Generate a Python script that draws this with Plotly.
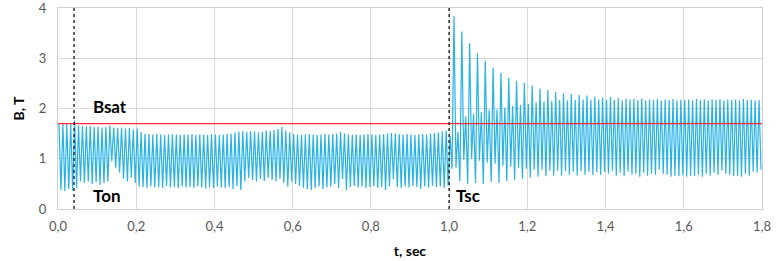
import plotly.graph_objects as go

# ---- data ----
B_SAT = 1.7
T_ON = 0.041
T_SC = 1.0
STEP = 0.01  # one peak and one trough per 0.01 s

# peak values, one per 0.01 s interval (t = 0.0025 + 0.01*i)
peak_values = [
    1.70, 1.70, 1.69, 1.70, 1.76, 1.66, 1.65, 1.64, 1.65, 1.63,
    1.64, 1.62, 1.63, 1.66, 1.62, 1.61, 1.62, 1.60, 1.61, 1.58,
    1.60, 1.53, 1.50, 1.49, 1.48, 1.49, 1.48, 1.47, 1.48, 1.49,
    1.48, 1.47, 1.48, 1.48, 1.49, 1.47, 1.48, 1.48, 1.47, 1.49,
    1.48, 1.47, 1.48, 1.49, 1.50, 1.52, 1.54, 1.55, 1.53, 1.55,
    1.54, 1.52, 1.53, 1.56, 1.55, 1.57, 1.59, 1.63, 1.56, 1.52,
    1.49, 1.48, 1.47, 1.48, 1.49, 1.48, 1.47, 1.48, 1.49, 1.48,
    1.49, 1.50, 1.53, 1.50, 1.48, 1.47, 1.48, 1.47, 1.48, 1.49,
    1.48, 1.47, 1.48, 1.49, 1.50, 1.51, 1.50, 1.49, 1.48, 1.49,
    1.48, 1.47, 1.48, 1.49, 1.48, 1.50, 1.51, 1.52, 1.54, 1.56,
    1.45, 3.84, 1.53, 3.53, 1.84, 3.30, 1.89, 3.10, 1.93, 2.95,
    1.97, 2.81, 1.98, 2.71, 2.02, 2.61, 2.05, 2.55, 2.07, 2.51,
    2.09, 2.46, 2.12, 2.40, 2.14, 2.37, 2.15, 2.33, 2.17, 2.30,
    2.16, 2.29, 2.17, 2.27, 2.18, 2.26, 2.17, 2.24, 2.18, 2.22,
    2.17, 2.23, 2.17, 2.21, 2.16, 2.20, 2.18, 2.19, 2.17, 2.20,
    2.16, 2.18, 2.17, 2.19, 2.16, 2.18, 2.17, 2.19, 2.16, 2.18,
    2.17, 2.18, 2.16, 2.19, 2.17, 2.18, 2.16, 2.18, 2.17, 2.19,
    2.16, 2.18, 2.17, 2.18, 2.16, 2.19, 2.17, 2.18, 2.16, 2.17,
]

# trough values, one per 0.01 s interval (t = 0.0075 + 0.01*i)
trough_values = [
    0.38, 0.36, 0.40, 0.37, 0.42, 0.55, 0.52, 0.55, 0.50, 0.54,
    0.48, 0.52, 0.55, 0.95, 0.82, 0.72, 0.60, 0.55, 0.62, 0.52,
    0.45, 0.44, 0.42, 0.45, 0.43, 0.44, 0.42, 0.46, 0.43, 0.44,
    0.42, 0.45, 0.43, 0.44, 0.42, 0.45, 0.43, 0.41, 0.44, 0.42,
    0.45, 0.43, 0.42, 0.44, 0.40, 0.46, 0.38, 0.55, 0.62, 0.58,
    0.55, 0.60, 0.56, 0.62, 0.58, 0.55, 0.60, 0.52, 0.45, 0.55,
    0.50, 0.46, 0.42, 0.40, 0.38, 0.42, 0.45, 0.40, 0.43, 0.45,
    0.50, 0.42, 0.60, 0.38, 0.44, 0.46, 0.43, 0.45, 0.42, 0.44,
    0.46, 0.42, 0.44, 0.38, 0.45, 0.60, 0.44, 0.42, 0.45, 0.43,
    0.46, 0.44, 0.40, 0.45, 0.43, 0.46, 0.44, 0.45, 0.42, 0.46,
    0.80, 0.82, 0.55, 0.98, 0.50, 1.00, 0.52, 0.96, 0.50, 0.92,
    0.54, 0.90, 0.52, 0.86, 0.56, 0.84, 0.58, 0.82, 0.60, 0.80,
    0.62, 0.78, 0.64, 0.78, 0.65, 0.76, 0.66, 0.76, 0.66, 0.75,
    0.68, 0.74, 0.66, 0.75, 0.68, 0.74, 0.67, 0.73, 0.68, 0.74,
    0.70, 0.76, 0.66, 0.72, 0.65, 0.74, 0.68, 0.70, 0.64, 0.72,
    0.66, 0.70, 0.68, 0.78, 0.70, 0.68, 0.64, 0.66, 0.65, 0.67,
    0.64, 0.66, 0.65, 0.68, 0.64, 0.70, 0.66, 0.72, 0.68, 0.76,
    0.70, 0.68, 0.65, 0.66, 0.64, 0.70, 0.66, 0.74, 0.72, 0.78,
]

x_range = [0, 1.8]
y_range = [0, 4]

# ---- build series ----
t, b = [], []
for i, (p, q) in enumerate(zip(peak_values, trough_values)):
    t.append(round(0.0025 + STEP * i, 4)); b.append(p)
    t.append(round(0.0075 + STEP * i, 4)); b.append(q)

FONT = "Lato, 'Open Sans', sans-serif"

fig = go.Figure()
fig.add_trace(go.Scatter(x=t, y=b, mode="lines",
                         line=dict(color="#28b2e8", width=1.2),
                         hoverinfo="skip", showlegend=False))
fig.add_trace(go.Scatter(x=x_range, y=[B_SAT, B_SAT], mode="lines",
                         line=dict(color="#ff2e3a", width=1.4),
                         hoverinfo="skip", showlegend=False))
for tv in (T_ON, T_SC):
    fig.add_trace(go.Scatter(x=[tv, tv], y=y_range, mode="lines",
                             line=dict(color="#222222", width=1.4, dash="dot"),
                             hoverinfo="skip", showlegend=False))

ann_font = dict(family=FONT, size=17, color="#000000")
fig.add_annotation(x=0.133, y=2.04, text="<b>Bsat</b>", showarrow=False, font=ann_font)
fig.add_annotation(x=0.1245, y=0.265, text="<b>Ton</b>", showarrow=False, font=ann_font)
fig.add_annotation(x=1.048, y=0.265, text="<b>Tsc</b>", showarrow=False, font=ann_font)

fig.update_layout(
    width=777, height=261,
    margin=dict(l=58, r=15, t=8, b=52),
    paper_bgcolor="white", plot_bgcolor="white",
    separators=",.",
    font=dict(family=FONT, size=13, color="#595959"),
    xaxis=dict(range=x_range, dtick=0.2, tick0=0, tickformat=".1f",
               automargin=False, ticklabeloverflow="allow",
               showgrid=True, gridcolor="#d9d9d9", gridwidth=1,
               showline=True, linecolor="#d0d0d0", linewidth=1, mirror=True,
               zeroline=False, ticks="", ticklen=0, ticklabelstandoff=5,
               title=dict(text="<b>t, sec</b>", font=dict(family=FONT, size=14, color="#000000"),
                          standoff=13)),
    yaxis=dict(range=y_range, dtick=1, tick0=0,
               automargin=False, ticklabeloverflow="allow",
               showgrid=True, gridcolor="#d9d9d9", gridwidth=1,
               showline=True, linecolor="#d0d0d0", linewidth=1, mirror=True,
               zeroline=False, ticks="", ticklen=0, ticklabelstandoff=8,
               title=dict(text="<b>B, T</b>", font=dict(family=FONT, size=14, color="#000000"),
                          standoff=10)),
)

fig.write_html("out.html", config={"displayModeBar": False},
               post_script="document.body.style.margin='0px';")
